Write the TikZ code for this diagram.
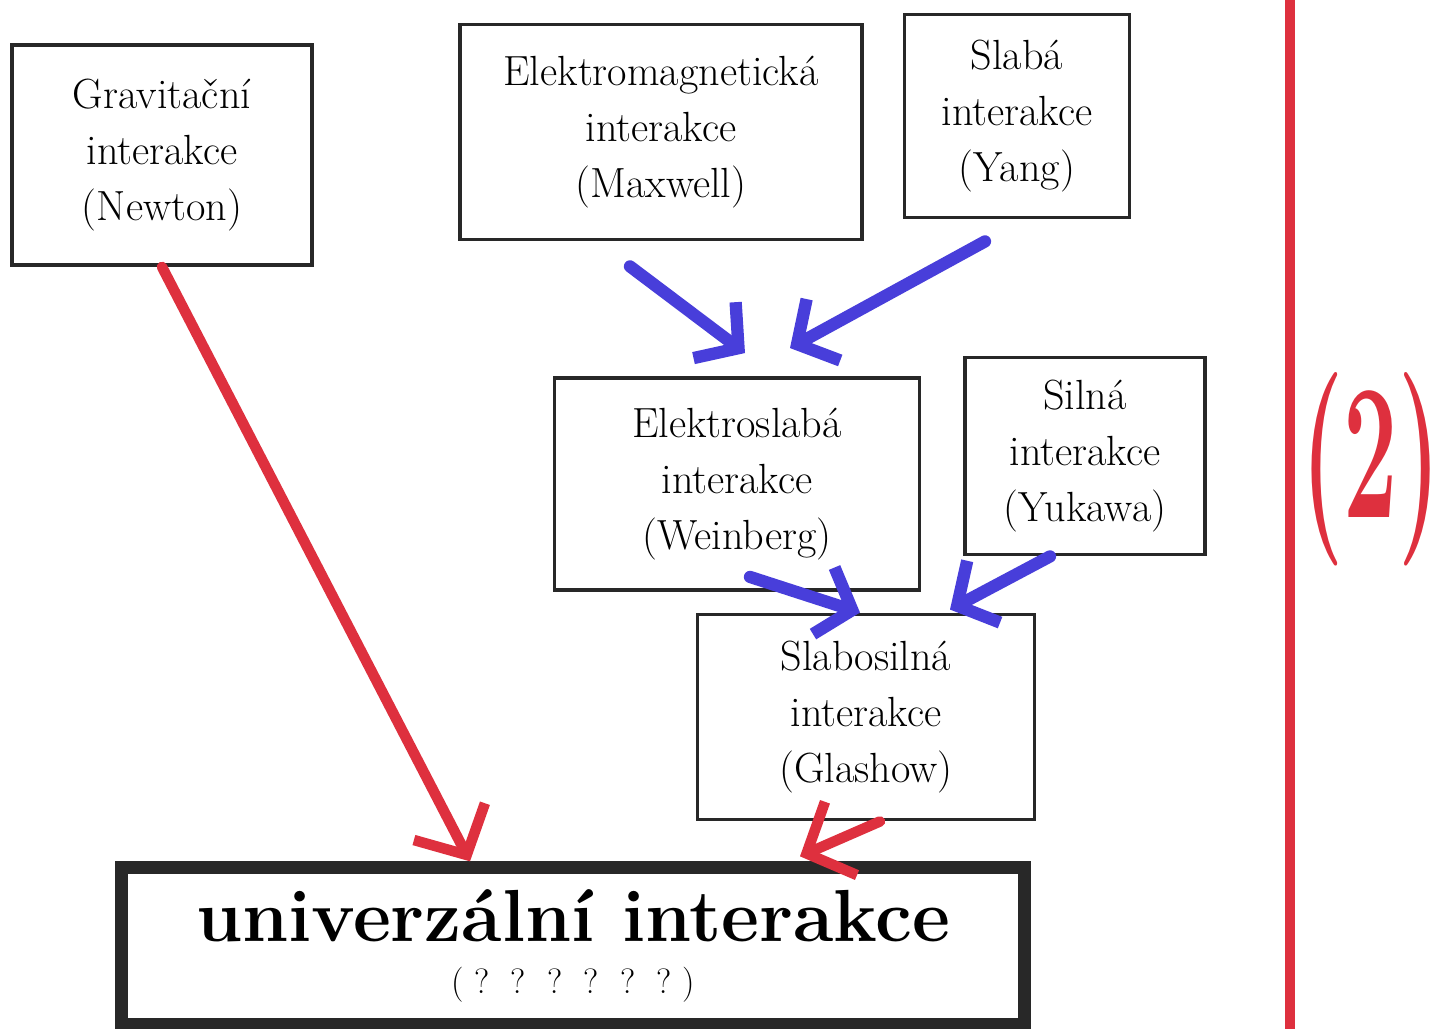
\documentclass[tikz,border=0pt]{standalone}
\usepackage{fontspec}
\usepackage{tikz}
\usetikzlibrary{arrows.meta}
\definecolor{ink}{RGB}{40,40,40}
\definecolor{redpen}{RGB}{222,48,62}
\definecolor{bluepen}{RGB}{72,62,218}

\begin{document}
\begin{tikzpicture}[
    box/.style={draw=ink, line width=2.2pt, align=center, inner sep=0pt,
      font=\fontsize{24}{32}\selectfont},
    redarrow/.style={draw=redpen, line width=6pt, line cap=round, line join=round,
      -{Straight Barb[length=0.75cm, width=1.6cm]}},
    bluearrow/.style={draw=bluepen, line width=7pt, line cap=round, line join=round,
      -{Straight Barb[length=0.6cm, width=1.4cm]}}
  ]

    \useasboundingbox (0,0) rectangle (28.88,20.58);

    \node[box, minimum width=6.0cm, minimum height=4.4cm] (gr) at (3.24, 17.48) {Gravitační\\interakce\\(Newton)};
    \node[box, minimum width=8.04cm, minimum height=4.3cm] (em) at (13.22, 17.94) {Elektromagnetická\\interakce\\(Maxwell)};
    \node[box, minimum width=4.5cm, minimum height=4.06cm] (sl) at (20.34, 18.26) {Slabá\\interakce\\(Yang)};
    \node[box, minimum width=7.3cm, minimum height=4.24cm] (es) at (14.74, 10.9) {Elektroslabá\\interakce\\(Weinberg)};
    \node[box, minimum width=4.8cm, minimum height=3.94cm] (si) at (21.7, 11.46) {Silná\\interakce\\(Yukawa)};
    \node[box, minimum width=6.74cm, minimum height=4.1cm] (gs) at (17.32, 6.24) {Slabosilná\\interakce\\(Glashow)};
    \node[box, line width=7pt, minimum width=18.06cm, minimum height=3.14cm] (un) at (11.46, 1.66)
      {{\fontsize{42}{42}\selectfont\bfseries univerzální interakce}\\[-2pt]
       {\fontsize{20}{20}\selectfont (\ ?\ \ ?\ \ ?\ \ ?\ \ ?\ \ ?\ )}};

    \node[text=redpen, xscale=0.5, inner sep=0pt, font=\fontsize{110}{110}\selectfont\bfseries] (no) at (27.42, 11.2) {(2)};
    \coordinate (top) at (25.8, 20.58);
    \coordinate (bot) at (25.8, 0);

    \draw [redarrow] (gr.south) to ([xshift=-2.06cm]un.north);
    \draw [redarrow] ([xshift=0.28cm]gs.south) to ([xshift=4.54cm, yshift=0.1cm]un.north);
    \draw [bluearrow] ([xshift=-0.62cm, yshift=-0.5cm]em.south) to ([xshift=0.16cm, yshift=0.46cm]es.north);
    \draw [bluearrow] ([xshift=-0.64cm, yshift=-0.44cm]sl.south) to ([xshift=1.06cm, yshift=0.56cm]es.north);
    \draw [bluearrow] ([xshift=0.26cm, yshift=0.3cm]es.south) to ([xshift=-0.12cm]gs.north);
    \draw [bluearrow] ([xshift=-0.7cm]si.south) to ([xshift=1.68cm, yshift=0.06cm]gs.north);
    \draw [draw=redpen, line width=5.5pt] (top) to (bot);

  \end{tikzpicture}
\end{document}
